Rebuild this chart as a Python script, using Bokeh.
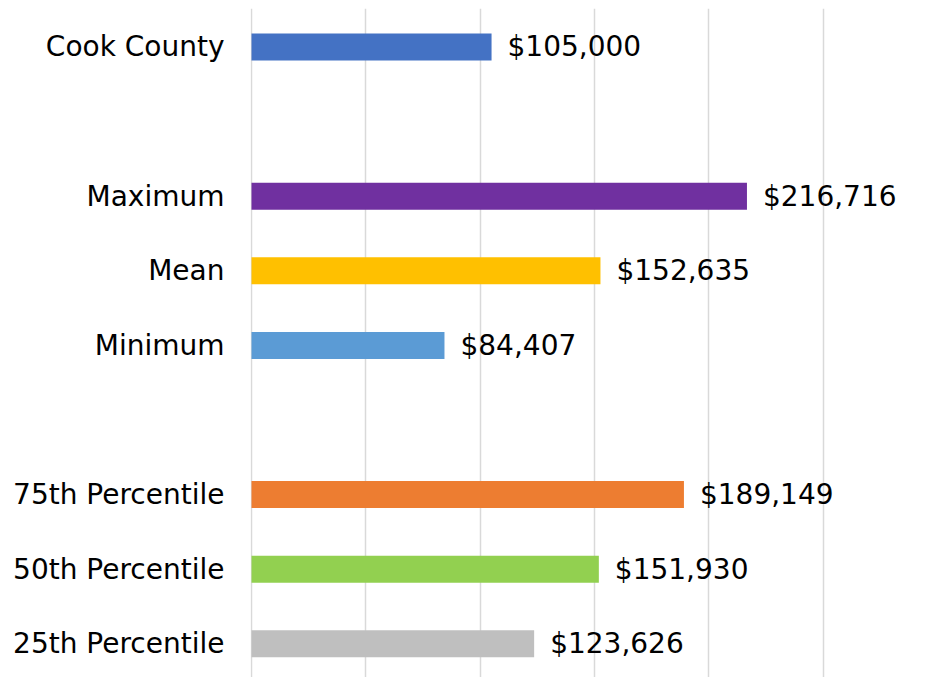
from bokeh.plotting import figure
from bokeh.models import ColumnDataSource, Range1d, FixedTicker
from bokeh.core.properties import value
from bokeh.embed import file_html
from bokeh.resources import INLINE

categories = ["Cook County", "Maximum", "Mean", "Minimum",
              "75th Percentile", "50th Percentile", "25th Percentile"]
slots = [0, 2, 3, 4, 6, 7, 8]
values = [105000, 216716, 152635, 84407, 189149, 151930, 123626]
colors = ["#4472C4", "#7030A0", "#FFC000", "#5B9BD5",
          "#ED7D31", "#92D050", "#BFBFBF"]
x_ticks = [0, 50000, 100000, 150000, 200000, 250000]

ys = [-s for s in slots]
labels = ["${:,}".format(v) for v in values]
src = ColumnDataSource(dict(y=ys, v=values, c=colors, lab=labels, cat=categories))

FONT = "DejaVu Sans"
p = figure(width=927, height=677, output_backend="svg", toolbar_location=None,
           x_range=Range1d(-437, 295683), y_range=Range1d(-8.452, 0.516),
           min_border_left=250, min_border_right=0, min_border_top=8,
           min_border_bottom=0, outline_line_color=None)

p.hbar(y="y", left=0, right="v", height=0.362, fill_color="c",
       line_color=None, source=src)
p.text(x="v", y="y", text="lab", source=src, x_offset=16,
       text_baseline="middle", text_align="left",
       text_font=value(FONT), text_font_size="28px", text_color="#000000")

p.xaxis.visible = False
p.xaxis.ticker = FixedTicker(ticks=x_ticks)
p.xgrid.ticker = FixedTicker(ticks=x_ticks)
p.xgrid.grid_line_color = "#D9D9D9"
p.xgrid.grid_line_width = 1.5
p.ygrid.grid_line_color = None

p.yaxis.ticker = FixedTicker(ticks=ys)
p.yaxis.major_label_overrides = {y: c for y, c in zip(ys, categories)}
p.yaxis.axis_line_color = None
p.yaxis.major_tick_line_color = None
p.yaxis.minor_tick_line_color = None
p.yaxis.major_tick_in = 0
p.yaxis.major_tick_out = 0
p.yaxis.major_label_standoff = 26
p.yaxis.major_label_text_font = FONT
p.yaxis.major_label_text_font_size = "28px"
p.yaxis.major_label_text_color = "#000000"

open("out.html", "w").write(file_html(p, INLINE))
